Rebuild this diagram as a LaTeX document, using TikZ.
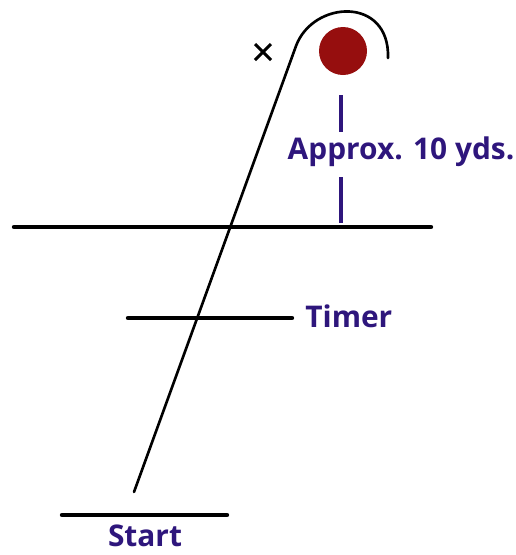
\documentclass[tikz,border=0pt]{standalone}
\usepackage{fontspec}
\setmainfont{Open Sans}
\usepackage{tikz}
\usetikzlibrary{positioning,calc}
\definecolor{labelpurple}{RGB}{46,22,124}
\definecolor{conered}{RGB}{150,14,14}
\tikzset{
  markline/.style={line width=2.5pt, line cap=round},
  runpath/.style={line width=1.5pt, line cap=round},
  lbl/.style={font=\bfseries\fontsize{17}{19}\selectfont, text=labelpurple, inner sep=0pt},
}

\begin{document}
\begin{tikzpicture}[x=0.02cm, y=-0.02cm]
\useasboundingbox (0,0) rectangle (516,555);
% lines on the field
\coordinate (farL) at (14,227);
\coordinate (farR) at (431,227);
\coordinate (timeL) at (128,318);
\coordinate (timeR) at (292,318);
\coordinate (startL) at (62,515);
\coordinate (startR) at (227,515);
\draw[markline] (farL) -- (farR);
\draw[markline] (timeL) -- (timeR);
\draw[markline] (startL) -- (startR);
% running path round the cone
\coordinate (runA) at (134,492);
\coordinate (runB) at (296,46);
\coordinate (runC) at (388,58);
\draw[runpath] (runA) -- (runB) .. controls (313,0) and (390,-4) .. (runC);
% cone and x mark
\node[circle, fill=conered, minimum size=48*0.02cm, inner sep=0pt] (cone) at (343,51) {};
\coordinate (xm) at (263,52);
\draw[line width=1.8pt] ($(xm)+(-8,-8)$) -- ($(xm)+(8,8)$);
\draw[line width=1.8pt] ($(xm)+(8,-8)$) -- ($(xm)+(-8,8)$);
% distance marker
\node[lbl] (approx) at (401,152) {Approx. 10 yds.};
\coordinate (gapT) at (341,95);
\coordinate (gapB) at (341,223);
\draw[labelpurple, line width=2.2pt] (gapT) -- (341,132);
\draw[labelpurple, line width=2.2pt] (341,177) -- (gapB);
% labels
\node[lbl, anchor=west] (timer) at (305,316) {Timer};
\node[lbl] (start) at (145,536) {Start};
\end{tikzpicture}
\end{document}
